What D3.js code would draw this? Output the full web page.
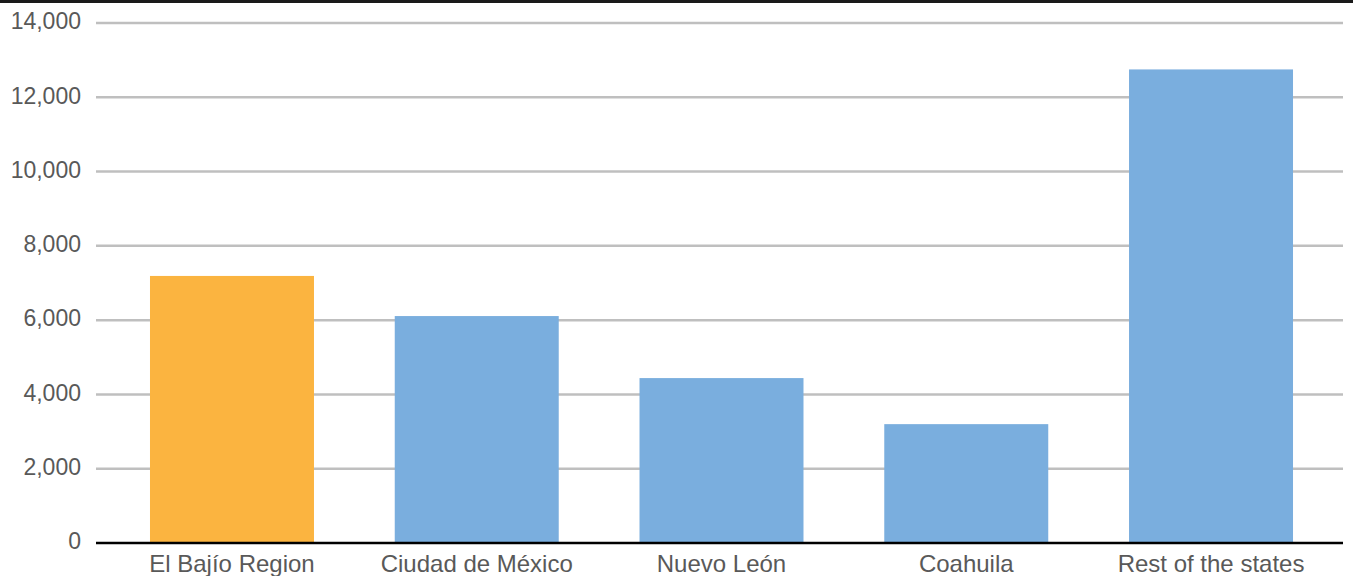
<!DOCTYPE html>
<html>
<head>
<meta charset="utf-8">
<script src="https://cdn.jsdelivr.net/npm/d3@7"></script>
<style>
  html, body { margin: 0; padding: 0; background: #fff; }
  svg { display: block; }
  text { font-family: "Liberation Sans", Arial, sans-serif; fill: #595959; }
</style>
</head>
<body>
<svg id="chart" width="1353" height="576"></svg>
<script>
const categories = ["El Bajío Region", "Ciudad de México", "Nuevo León", "Coahuila", "Rest of the states"];
const values = [7190, 6110, 4440, 3200, 12750];
const highlight = ["El Bajío Region"];
const yTicks = [0, 2000, 4000, 6000, 8000, 10000, 12000, 14000];

const W = 1353, H = 576;
const plotLeft = 96, plotRight = 1343;
const bandLeft = 109.6, bandRight = 1333.4;
const yTop = 23, yBottom = 543;

const svg = d3.select("#chart");

// top border line
svg.append("rect").attr("x", 0).attr("y", 0).attr("width", W).attr("height", 3).attr("fill", "#1a1a1a");

const x = d3.scaleBand().domain(categories).range([bandLeft, bandRight]).paddingInner(0.33).paddingOuter(0.165);
const y = d3.scaleLinear().domain([0, 14000]).range([yBottom, yTop]);

// gridlines
svg.append("g").selectAll("line").data(yTicks.filter(d => d > 0)).join("line")
  .attr("x1", plotLeft).attr("x2", plotRight)
  .attr("y1", d => y(d)).attr("y2", d => y(d))
  .attr("stroke", "#bfbfbf").attr("stroke-width", 2.5);

// y axis labels
const yAxis = d3.axisLeft(y).tickValues(yTicks).tickFormat(d3.format(",")).tickSize(0).tickPadding(0);
const gy = svg.append("g").attr("transform", `translate(81,0)`).call(yAxis);
gy.select(".domain").remove();
gy.selectAll("text").attr("font-size", 23).attr("dy", "0.25em").style("fill", "#595959")
  .style("font-family", '"Liberation Sans", Arial, sans-serif');

// bars
svg.append("g").selectAll("rect").data(categories).join("rect")
  .attr("x", d => x(d))
  .attr("width", x.bandwidth())
  .attr("y", (d, i) => y(values[i]))
  .attr("height", (d, i) => y(0) - y(values[i]))
  .attr("fill", d => highlight.includes(d) ? "#fbb440" : "#7aaede");

// x axis line
svg.append("line").attr("x1", plotLeft).attr("x2", plotRight)
  .attr("y1", yBottom).attr("y2", yBottom).attr("stroke", "#000").attr("stroke-width", 2.5);

// x labels
const xAxis = d3.axisBottom(x).tickSize(0).tickPadding(0);
const gx = svg.append("g").attr("transform", `translate(0,${yBottom})`).call(xAxis);
gx.select(".domain").remove();
gx.selectAll("text").attr("font-size", 24).attr("y", 29).attr("dy", 0).style("fill", "#595959")
  .style("font-family", '"Liberation Sans", Arial, sans-serif');
</script>
</body>
</html>
